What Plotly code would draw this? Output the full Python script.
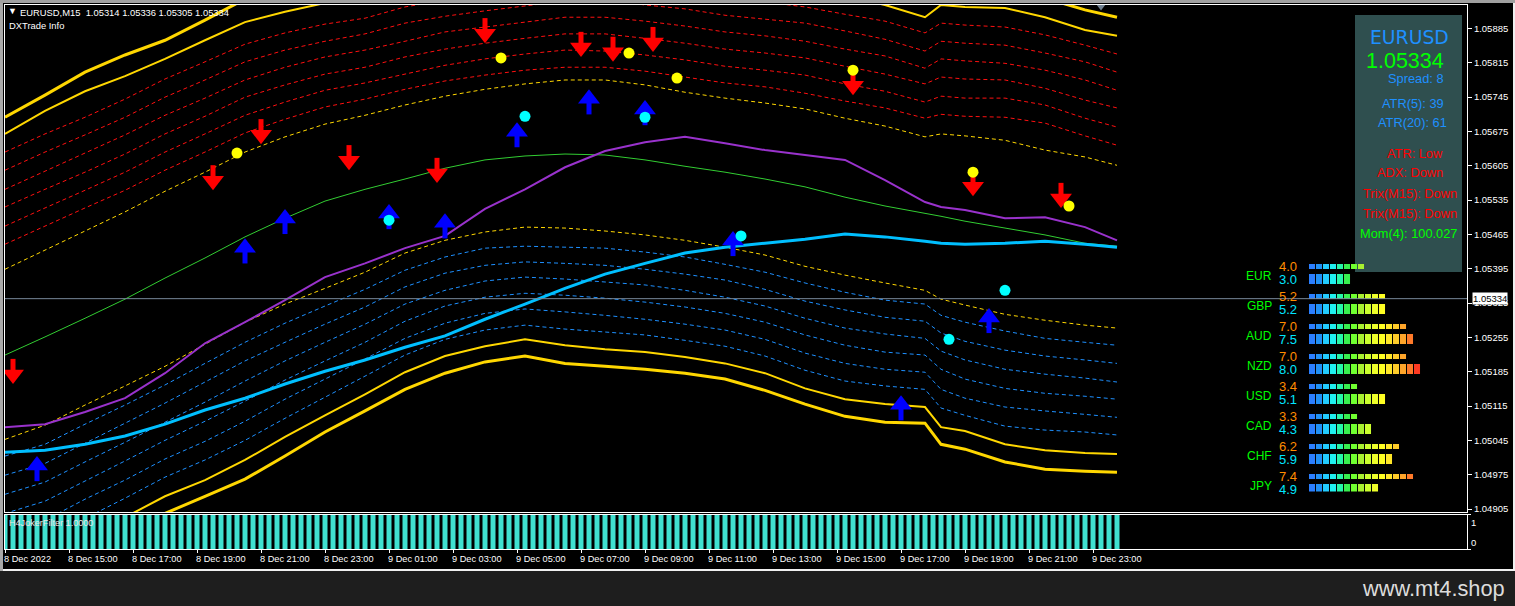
import math
import plotly.graph_objects as go

W, H = 1515, 606

# ---------- price data (quoted in 1e-5 price units, "points") ----------
knot_bars = [0, 5, 10, 15, 20, 25, 30, 35, 40, 45, 50, 55, 60, 65, 70, 75, 80, 85, 90, 95, 100, 105, 110, 115, 117, 120, 125, 130, 135, 139]

upper_thick = [105704,105749,105796,105831,105861,105902,105945,105963,105980,105988,106004,106016,106029,106039,106045,106045,106035,106025,106014,106000,105994,105984,105967,105949,105970,105965,105963,105947,105923,105908]
upper_thin = [105670,105717,105757,105788,105823,105861,105898,105919,105937,105945,105965,105980,105990,106000,106010,106010,106000,105992,105982,105974,105963,105951,105933,105908,105933,105929,105927,105908,105882,105870]
red_1 = [105633,105670,105704,105741,105782,105817,105853,105876,105894,105906,105929,105943,105953,105963,105974,105976,105965,105957,105947,105939,105929,105914,105900,105876,105896,105892,105888,105872,105851,105833]
red_2 = [105596,105633,105668,105704,105745,105780,105817,105841,105859,105874,105896,105910,105921,105931,105941,105943,105933,105925,105912,105904,105896,105880,105863,105839,105859,105855,105851,105835,105817,105796]
red_3 = [105557,105594,105631,105668,105708,105743,105780,105806,105827,105841,105859,105878,105888,105898,105908,105908,105900,105890,105878,105870,105859,105843,105829,105804,105823,105819,105814,105800,105780,105759]
red_4 = [105521,105557,105592,105629,105670,105706,105745,105770,105792,105806,105827,105843,105855,105865,105874,105874,105865,105855,105843,105835,105825,105808,105792,105772,105786,105782,105780,105763,105739,105723]
red_5 = [105482,105519,105555,105592,105633,105670,105708,105735,105759,105774,105792,105810,105823,105833,105841,105839,105831,105821,105808,105800,105790,105772,105757,105735,105747,105743,105743,105729,105702,105684]
red_6 = [105445,105482,105519,105555,105596,105633,105672,105700,105725,105741,105761,105778,105790,105800,105806,105806,105798,105786,105774,105766,105753,105737,105723,105702,105710,105706,105704,105692,105666,105647]
upper_dash = [105394,105433,105472,105511,105553,105592,105633,105664,105690,105708,105729,105747,105761,105772,105780,105780,105770,105755,105743,105733,105721,105702,105686,105664,105670,105666,105657,105637,105623,105606]
mid_green = [105219,105256,105294,105333,105376,105417,105460,105498,105533,105557,105578,105600,105617,105625,105629,105627,105617,105604,105592,105578,105562,105541,105523,105508,105502,105492,105478,105464,105447,105441]
lower_dash = [105047,105076,105117,105156,105196,105241,105286,105323,105355,105388,105427,105453,105470,105480,105478,105472,105464,105453,105439,105423,105400,105382,105366,105351,105333,105321,105302,105290,105280,105274]
blue_1 = [105013,105037,105078,105117,105158,105202,105245,105284,105319,105353,105392,105419,105437,105441,105439,105437,105429,105419,105404,105388,105366,105347,105331,105323,105300,105286,105268,105253,105245,105239]
blue_2 = [104974,104998,105039,105080,105121,105164,105207,105245,105282,105317,105358,105386,105402,105409,105406,105402,105394,105384,105372,105353,105329,105311,105296,105288,105264,105247,105229,105217,105209,105202]
blue_3 = [104935,104960,105001,105041,105082,105123,105166,105207,105245,105282,105323,105351,105370,105378,105374,105368,105362,105351,105337,105319,105294,105274,105262,105253,105227,105209,105190,105180,105172,105164]
blue_4 = [104896,104921,104962,105003,105045,105084,105125,105168,105207,105245,105288,105319,105337,105345,105341,105335,105327,105317,105304,105286,105260,105239,105225,105219,105190,105170,105151,105141,105135,105129]
blue_5 = [104858,104882,104925,104964,105007,105043,105084,105129,105170,105211,105253,105284,105304,105313,105307,105300,105292,105282,105270,105251,105223,105202,105190,105184,105149,105131,105113,105105,105098,105092]
blue_6 = [104819,104845,104886,104927,104970,105005,105045,105090,105133,105176,105219,105251,105270,105280,105272,105266,105260,105249,105237,105217,105188,105166,105156,105149,105111,105096,105074,105066,105062,105056]
lower_thin = [104776,104807,104848,104888,104931,104964,105005,105052,105096,105139,105184,105217,105237,105251,105239,105231,105225,105215,105202,105182,105151,105129,105119,105113,105072,105064,105037,105025,105019,105017]
lower_thick = [104739,104776,104815,104856,104896,104931,104966,105013,105062,105105,105149,105182,105205,105217,105202,105196,105190,105182,105170,105147,105119,105094,105082,105080,105037,105027,105001,104986,104982,104980]
purple_line = [105072,105078,105103,105131,105182,105243,105286,105331,105378,105406,105437,105462,105517,105557,105602,105635,105653,105664,105651,105637,105627,105617,105576,105531,105521,105515,105498,105500,105480,105453]
cyan_line = [105021,105025,105037,105054,105078,105107,105131,105160,105186,105209,105235,105258,105292,105323,105355,105384,105406,105427,105439,105447,105455,105466,105460,105451,105447,105445,105447,105451,105445,105439]

down_bars = [1, 26, 32, 43, 54, 60, 72, 76, 81, 106, 121, 132]
down_tips = [105160,105555,105649,105596,105570,105855,105827,105817,105837,105749,105543,105519]
up_bars = [4, 30, 35, 48, 55, 64, 73, 80, 91, 112, 123]
up_tips = [105013,105457,105517,105527,105508,105694,105761,105739,105472,105137,105315]
yellow_bars = [29, 62, 78, 84, 106, 121, 133]
yellow_vals = [105631,105825,105835,105784,105800,105592,105523]
aqua_bars = [48, 65, 80, 92, 118, 125]
aqua_vals = [105494,105706,105704,105462,105251,105351]

filter_bars = list(range(140))
filter_vals = [1] * 140

current_price = 1.05334
price_ticks = [1.05885,1.05815,1.05745,1.05675,1.05605,1.05535,1.05465,1.05395,1.05325,1.05255,1.05185,1.05115,1.05045,1.04975,1.04905]
time_labels = ["8 Dec 2022","8 Dec 15:00","8 Dec 17:00","8 Dec 19:00","8 Dec 21:00","8 Dec 23:00","9 Dec 01:00","9 Dec 03:00","9 Dec 05:00","9 Dec 07:00","9 Dec 09:00","9 Dec 11:00","9 Dec 13:00","9 Dec 15:00","9 Dec 17:00","9 Dec 19:00","9 Dec 21:00","9 Dec 23:00"]
time_bars = [0,8,16,24,32,40,48,56,64,72,80,88,96,104,112,120,128,136]

currencies = ["EUR","GBP","AUD","NZD","USD","CAD","CHF","JPY"]
strength_fast = [4.0,5.2,7.0,7.0,3.4,3.3,6.2,7.4]
strength_slow = [3.0,5.2,7.5,8.0,5.1,4.3,5.9,4.9]
segment_colors = ["#2b7fff","#2090f5","#22ccff","#1ff0f0","#28f5a8","#38f050","#70ff30","#a8f030","#ccff2e","#eeff2a","#ffff22","#ffe628","#ffcc2a","#ffa52a","#ff7a2a","#ff3a22"]

FONT = "Liberation Sans"
def P(series):
    return [v / 1e5 for v in series]

fig = go.Figure()

def line(series, color, width, dash=None):
    fig.add_trace(go.Scatter(x=knot_bars, y=P(series), mode="lines",
                             line=dict(color=color, width=width, dash=dash, simplify=False),
                             hoverinfo="skip", showlegend=False))

DASH = "4px,3px"
for s in [red_1, red_2, red_3, red_4, red_5, red_6]:
    line(s, "#ff1010", 1, DASH)
for s in [blue_1, blue_2, blue_3, blue_4, blue_5, blue_6]:
    line(s, "#1e90ff", 1, DASH)
line(upper_dash, "#ffd700", 1, DASH)
line(lower_dash, "#ffd700", 1, DASH)
line(upper_thin, "#ffd700", 2)
line(lower_thin, "#ffd700", 2)
line(upper_thick, "#ffd700", 3)
line(lower_thick, "#ffd700", 3)
line(mid_green, "#32cd32", 1)
line(purple_line, "#9932cc", 2)
line(cyan_line, "#00bfff", 3)

def arrows(bars, tips, color, angle):
    tip = [v / 1e5 for v in tips]
    fig.add_trace(go.Scatter(x=bars, y=tip, mode="markers", hoverinfo="skip", showlegend=False,
                             marker=dict(symbol="line-ns", size=13, angle=angle, standoff=16,
                                         line=dict(color=color, width=5))))
    fig.add_trace(go.Scatter(x=bars, y=tip, mode="markers", hoverinfo="skip", showlegend=False,
                             marker=dict(symbol="triangle-up", size=19, angle=angle, standoff=9.5, color=color,
                                         line=dict(width=0))))

arrows(down_bars, down_tips, "#ff0000", 180)
arrows(up_bars, up_tips, "#0000ff", 0)

fig.add_trace(go.Scatter(x=yellow_bars, y=P(yellow_vals), mode="markers", hoverinfo="skip", showlegend=False,
                         marker=dict(symbol="circle", size=11, color="#ffff00", line=dict(width=0))))
fig.add_trace(go.Scatter(x=aqua_bars, y=P(aqua_vals), mode="markers", hoverinfo="skip", showlegend=False,
                         marker=dict(symbol="circle", size=11, color="#00ffff", line=dict(width=0))))

# small grey chart marker at the top edge
fig.add_trace(go.Scatter(x=[137], y=[1.05931], mode="markers", hoverinfo="skip", showlegend=False,
                         marker=dict(symbol="triangle-down", size=9, color="#708090", line=dict(width=0))))

# sub-window histogram
fig.add_trace(go.Bar(x=filter_bars, y=filter_vals, xaxis="x2", yaxis="y2", width=0.625,
                     marker=dict(color="#40e0d0", line=dict(width=0)), hoverinfo="skip", showlegend=False))

# currency strength segments
row_h_top, row_h_bot = 5 / 30, 10 / 30
for seg, col in enumerate(segment_colors):
    ys, ws = [], []
    for k in range(len(currencies)):
        if math.ceil(strength_fast[k] * 2) > seg:
            ys.append(k); ws.append(row_h_top)
        if math.ceil(strength_slow[k] * 2) > seg:
            ys.append(k + 0.4167); ws.append(row_h_bot)
    fig.add_trace(go.Bar(y=ys, x=[0.43] * len(ys), base=[seg * 0.5] * len(ys), width=ws, orientation="h",
                         xaxis="x3", yaxis="y3", marker=dict(color=col, line=dict(width=0)),
                         hoverinfo="skip", showlegend=False))

def label(text, x, y, size=9.5, color="#ffffff", anchor="left", font=FONT, **kw):
    shift = {"left": -2, "right": 2, "center": 0}[anchor]
    return dict(text=text, xref="paper", yref="paper", x=(x + shift) / W, y=1 - y / H, xanchor=anchor, yanchor="middle",
                showarrow=False, font=dict(family=font, size=size, color=color), **kw)

ann = [
    label("▼", 8, 11, 9),
    label("EURUSD,M15  1.05314 1.05336 1.05305 1.05334", 20, 12, 9.4),
    label("DXTrade Info", 9, 25, 9.4),
    label("H4JokerFilter 1.0000", 9, 523, 9.1, "#e8e8e8"),
    label("1", 1471, 522, 9.5),
    label("0", 1471, 542, 9.5),
    label("1.05334", 1474, 298.5, 9.5, "#000000", bgcolor="#ffffff", borderpad=0),
    label("www.mt4.shop", 1505, 588, 21.8, "#dcdcdc", "right"),
    label("EURUSD", 1409, 38, 18.8, "#1e90ff", "center", font="DejaVu Sans"),
    label("1.05334", 1405, 61, 21.5, "#00ff00", "center"),
    label("Spread: 8", 1444, 78, 12.8, "#1e90ff", "right"),
    label("ATR(5): 39", 1444, 103, 12.8, "#1e90ff", "right"),
    label("ATR(20): 61", 1447, 123, 12.8, "#1e90ff", "right"),
    label("ATR: Low", 1443, 153, 12.8, "#ff0000", "right"),
    label("ADX: Down", 1443, 173, 12.8, "#ff0000", "right"),
    label("Trix(M15): Down", 1457, 193, 12.8, "#ff0000", "right"),
    label("Trix(M15): Down", 1457, 213, 12.8, "#ff0000", "right"),
    label("Mom(4): 100.027", 1457, 233, 12.8, "#00ff00", "right"),
]
for k, c in enumerate(currencies):
    ann.append(label(c, 1272, 276 + 30 * k, 12, "#00ff00", "right"))
    ann.append(label(f"{strength_fast[k]:.1f}", 1279, 266 + 30 * k, 13, "#ff8c00"))
    ann.append(label(f"{strength_slow[k]:.1f}", 1279, 279 + 30 * k, 13, "#00e5ff"))

def rect(x0, y0, x1, y1, color, layer="below"):
    return dict(type="rect", xref="paper", yref="paper", x0=x0 / W, x1=x1 / W, y0=1 - y0 / H, y1=1 - y1 / H,
                fillcolor=color, line=dict(width=0), layer=layer)

shapes = [
    rect(1355, 15, 1462, 272, "#2f4f4f"),
    rect(0, 571, W, H, "#1e1e1e", "above"),
    rect(0, 569, W, 571, "#f0f0f0", "above"),
    rect(1513, 0, 1515, 571, "#f0f0f0", "above"),
    rect(0, 0, 3, 571, "#a8a8a8", "above"),
    rect(0, 0, W, 3, "#a0a0a0", "above"),
    dict(type="line", xref="x domain", x0=0, x1=1, yref="y", y0=current_price, y1=current_price,
         line=dict(color="#778899", width=1), layer="above"),
]

y_top = 1.05885 + (28.5 - 5) * 2.0395e-5
y_bot = 1.05885 - (512 - 28.5) * 2.0395e-5
bar_max = (1467 - 5) / 8

axis_font = dict(family=FONT, size=9.2, color="#ffffff")
x_common = dict(range=[0, bar_max], showgrid=False, zeroline=False, showline=True, linecolor="#ffffff",
                linewidth=1, mirror=True, tickcolor="#ffffff", ticklen=3, tickwidth=1, tickfont=axis_font, automargin=False)

fig.update_layout(
    template="none",
    width=W, height=H, autosize=False, margin=dict(l=0, r=0, t=0, b=0, pad=0),
    paper_bgcolor="#000000", plot_bgcolor="rgba(0,0,0,0)", barmode="overlay", showlegend=False,
    hovermode=False,
    xaxis=dict(domain=[5 / W, 1467 / W], anchor="y", showticklabels=False, ticks="", **x_common),
    yaxis=dict(domain=[1 - 512 / H, 1 - 5 / H], anchor="x", side="right", range=[y_bot, y_top],
               tickmode="array", tickvals=price_ticks, ticktext=[f"{t:.5f}" for t in price_ticks],
               ticks="outside", ticklen=4, tickcolor="#ffffff", tickfont=dict(family=FONT, size=9.5, color="#ffffff"),
               showgrid=False, zeroline=False, automargin=False,
               showline=True, linecolor="#ffffff", linewidth=1, mirror=True),
    xaxis2=dict(domain=[5 / W, 1467 / W], anchor="y2", tickmode="array", tickvals=time_bars, ticktext=time_labels,
                ticks="outside", ticklabelposition="outside right", ticklabelshift=-2, ticklabelstandoff=1, **x_common),
    yaxis2=dict(domain=[1 - 549 / H, 1 - 514.5 / H], anchor="x2", side="right", range=[0, 1], tickvals=[0, 1],
                showticklabels=False, ticks="outside", ticklen=3, tickcolor="#ffffff", showgrid=False, zeroline=False,
                automargin=False, showline=True, linecolor="#ffffff", linewidth=1, mirror=True),
    xaxis3=dict(domain=[1309 / W, 1449 / W], range=[0, 10], anchor="y3", visible=False),
    yaxis3=dict(domain=[1 - 491.5 / H, 1 - 251.5 / H], range=[7.5, -0.5], anchor="x3", visible=False),
    annotations=ann, shapes=shapes,
)

fig.write_html("out.html", config=dict(displayModeBar=False),
               post_script="document.body.style.margin='0';document.body.style.background='#000';document.body.style.overflow='hidden';")
